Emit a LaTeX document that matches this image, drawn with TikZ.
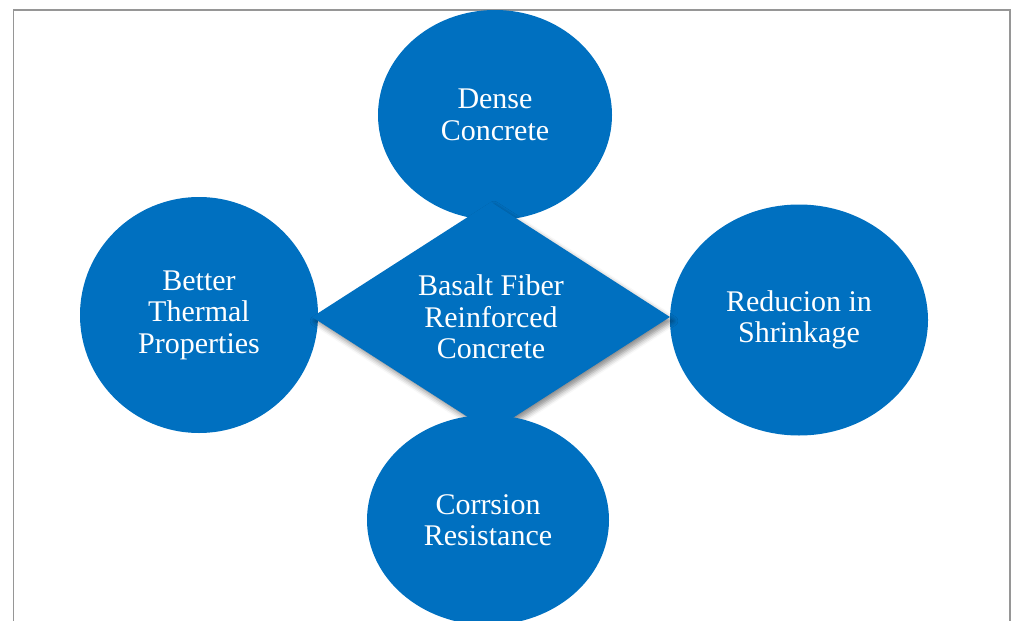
\documentclass[tikz,border=0pt]{standalone}
\usepackage{fontspec}
\setmainfont{Liberation Serif}
\usetikzlibrary{shapes.geometric,shadows.blur}
\definecolor{fillblue}{RGB}{0,112,192}
\definecolor{framegray}{RGB}{150,150,150}
\begin{document}
\begin{tikzpicture}[x=1pt,y=-1pt,
  bubble/.style={ellipse,fill=fillblue,draw=none,inner sep=0pt,text=white,align=center,
    font=\fontsize{30}{31.5}\selectfont},
  hub/.style={diamond,fill=fillblue,draw=none,inner sep=0pt,text=white,align=center,
    font=\fontsize{30}{31.5}\selectfont,
    blur shadow={shadow xshift=3pt,shadow yshift=-4pt,shadow blur radius=5pt,shadow opacity=45}},
  frame/.style={draw=framegray,line width=1.6pt}]
\useasboundingbox (0,0) rectangle (1012,621);
\coordinate (fbl) at (13.5,625);
\coordinate (ftl) at (13.5,10);
\coordinate (ftr) at (1010,10);
\coordinate (fbr) at (1010,625);
\draw[frame] (fbl) -- (ftl) -- (ftr) -- (fbr);
\node[bubble,minimum width=234pt,minimum height=210pt] (dense) at (495,115) {Dense\\Concrete};
\node[bubble,minimum width=238pt,minimum height=236pt] (thermal) at (199,315) {Better\\Thermal\\Properties};
\node[bubble,minimum width=258pt,minimum height=231pt] (shrink) at (799,320) {Reducion in\\Shrinkage};
\node[hub,minimum width=358pt,minimum height=208pt] (bfrc) at (491,317) {Basalt Fiber\\Reinforced\\Concrete};
\node[bubble,minimum width=242pt,minimum height=210pt] (corr) at (488,520) {Corrsion\\Resistance};
\end{tikzpicture}
\end{document}
